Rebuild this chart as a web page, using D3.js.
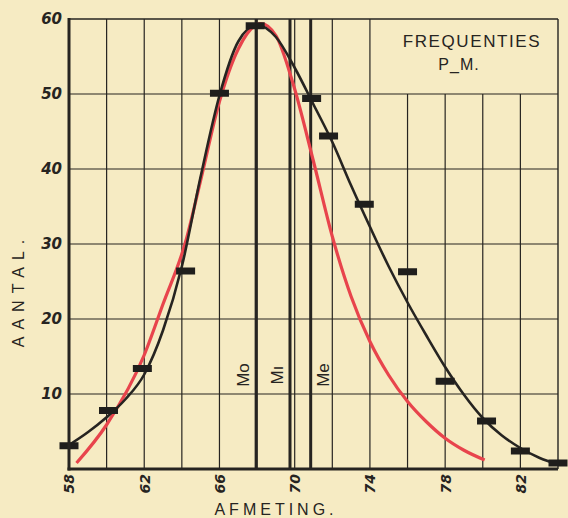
<!DOCTYPE html>
<html>
<head>
<meta charset="utf-8">
<script src="https://cdn.jsdelivr.net/npm/d3@7"></script>
<style>
  html, body { margin: 0; padding: 0; background: #f6ebc3; }
  svg { display: block; }
</style>
</head>
<body>
<div id="chart"></div>
<script>
// #region Data
const barX = [58, 60.1, 61.9, 64.2, 66, 67.9, 70.9, 71.8, 73.7, 76, 78, 80.2, 82, 84];
const barY = [3.1, 7.8, 13.4, 26.4, 50.1, 59.1, 49.4, 44.4, 35.3, 26.3, 11.7, 6.4, 2.4, 0.8];

const blackCurveX = [58, 59, 60, 61, 62, 63, 64, 65, 66, 67, 68, 69, 70, 71, 72, 73, 74, 75, 76, 77, 78, 79, 80, 81, 82, 83, 84];
const blackCurveY = [3.2, 4.9, 6.9, 9.3, 12.6, 18.5, 27, 39, 49.8, 57, 59.2, 57.6, 53.5, 48.6, 43.6, 37.8, 32.3, 27, 22.2, 17.8, 13.6, 9.9, 6.8, 4.5, 2.8, 1.5, 0.6];

const redCurveX = [58.4, 60, 62, 63, 64.2, 65, 66, 67, 68.2, 69, 69.9, 71, 72, 73, 74, 75, 76, 77, 78, 79, 80.1];
const redCurveY = [0.8, 5.9, 15.2, 22, 30.3, 38.5, 49, 56, 59.4, 57.8, 51.5, 41, 31, 23, 17, 12.5, 9, 6.3, 4.1, 2.5, 1.2];

const meanLines = [
  { label: 'Mo', value: 67.95, side: 'left' },
  { label: 'Mı', value: 69.75, side: 'left' },
  { label: 'Me', value: 70.85, side: 'right' },
];

const xTickLabels = [58, 62, 66, 70, 74, 78, 82];
const xGridValues = [60, 62, 64, 66, 68, 70, 72, 74, 76, 78, 80, 82];
const yTickLabels = [10, 20, 30, 40, 50, 60];
// #endregion

// #region SVG setup
const width = 568;
const height = 518;
const ink = '#262421';
const chart = d3.select('#chart').append('svg')
  .attr('width', width)
  .attr('height', height);

chart.append('rect')
  .attr('width', width)
  .attr('height', height)
  .attr('fill', '#f6ebc3');

const x = d3.scaleLinear().domain([58, 84]).range([69, 558]);
const y = d3.scaleLinear().domain([0, 60]).range([469, 19]);
// #endregion

// #region Grid
const grid = chart.append('g');
// legend box in the upper right has no vertical gridlines
grid.selectAll('line.v')
  .data(xGridValues)
  .enter()
  .append('line')
  .attr('x1', d => x(d))
  .attr('x2', d => x(d))
  .attr('y1', d => (d > 74 ? y(50) : y(60)))
  .attr('y2', y(0))
  .attr('stroke', ink)
  .attr('stroke-width', 1.2);

grid.selectAll('line.h')
  .data(yTickLabels)
  .enter()
  .append('line')
  .attr('x1', x(58))
  .attr('x2', x(84))
  .attr('y1', d => y(d))
  .attr('y2', d => y(d))
  .attr('stroke', ink)
  .attr('stroke-width', d => (d === 60 ? 1.6 : 1.2));

// right border
grid.append('line')
  .attr('x1', x(84)).attr('x2', x(84))
  .attr('y1', y(60)).attr('y2', y(0))
  .attr('stroke', ink).attr('stroke-width', 1.4);
// #endregion

// #region Mean / mode / median lines
const marks = chart.append('g');
marks.selectAll('line')
  .data(meanLines)
  .enter()
  .append('line')
  .attr('x1', d => x(d.value))
  .attr('x2', d => x(d.value))
  .attr('y1', y(60))
  .attr('y2', y(0))
  .attr('stroke', ink)
  .attr('stroke-width', 3);

marks.selectAll('text')
  .data(meanLines)
  .enter()
  .append('text')
  .text(d => d.label)
  .attr('transform', d => `translate(${x(d.value) + (d.side === 'left' ? -7 : 18)}, 375) rotate(-90)`)
  .attr('text-anchor', 'middle')
  .attr('font-family', 'Liberation Sans, Arial, sans-serif')
  .attr('font-size', 17)
  .attr('fill', ink);
// #endregion

// #region Curves
const line = d3.line()
  .x(d => x(d[0]))
  .y(d => y(d[1]))
  .curve(d3.curveMonotoneX);

chart.append('path')
  .datum(redCurveX.map((d, i) => [d, redCurveY[i]]))
  .attr('d', line)
  .attr('fill', 'none')
  .attr('stroke', '#e8444c')
  .attr('stroke-width', 3.2);

chart.append('path')
  .datum(blackCurveX.map((d, i) => [d, blackCurveY[i]]))
  .attr('d', line)
  .attr('fill', 'none')
  .attr('stroke', ink)
  .attr('stroke-width', 2.6);
// #endregion

// #region Frequency bars
chart.append('g')
  .selectAll('rect')
  .data(barX.map((d, i) => [d, barY[i]]))
  .enter()
  .append('rect')
  .attr('x', d => x(d[0]) - 9.5)
  .attr('y', d => y(d[1]) - 3.5)
  .attr('width', 19)
  .attr('height', 7)
  .attr('fill', '#1f1e1c');
// #endregion

// #region Axes
const xAxis = chart.append('g')
  .attr('transform', `translate(0, ${y(0)})`)
  .call(d3.axisBottom(x).tickValues(xTickLabels).tickSize(0).tickPadding(0));
xAxis.select('.domain').remove();
xAxis.selectAll('text')
  .attr('transform', 'rotate(-90)')
  .attr('x', -5)
  .attr('y', 0)
  .attr('dy', '0.35em')
  .attr('text-anchor', 'end')
  .attr('font-family', 'DejaVu Sans, sans-serif')
  .attr('font-style', 'italic')
  .attr('font-weight', 'bold')
  .attr('font-size', 14)
  .attr('fill', ink);

const yAxis = chart.append('g')
  .attr('transform', `translate(${x(58)}, 0)`)
  .call(d3.axisLeft(y).tickValues(yTickLabels).tickSize(0).tickPadding(7));
yAxis.select('.domain').remove();
yAxis.selectAll('text')
  .attr('font-family', 'DejaVu Sans, sans-serif')
  .attr('font-style', 'italic')
  .attr('font-weight', 'bold')
  .attr('font-size', 15)
  .attr('fill', ink);

// thick axis lines
chart.append('line')
  .attr('x1', x(58)).attr('x2', x(58))
  .attr('y1', y(60) - 1).attr('y2', y(0) + 1.5)
  .attr('stroke', ink).attr('stroke-width', 3);
chart.append('line')
  .attr('x1', x(58) - 1.5).attr('x2', x(84))
  .attr('y1', y(0)).attr('y2', y(0))
  .attr('stroke', ink).attr('stroke-width', 3);
// #endregion

// #region Titles
const labelFont = 'Liberation Sans, Arial, sans-serif';
chart.append('text')
  .text('AFMETING.')
  .attr('x', 276)
  .attr('y', 515)
  .attr('text-anchor', 'middle')
  .attr('font-family', labelFont)
  .attr('font-size', 16)
  .attr('letter-spacing', 4)
  .attr('fill', ink);

chart.append('text')
  .text('AANTAL.')
  .attr('transform', 'translate(24, 290) rotate(-90)')
  .attr('text-anchor', 'middle')
  .attr('font-family', labelFont)
  .attr('font-size', 16)
  .attr('letter-spacing', 7)
  .attr('fill', ink);

chart.append('text')
  .text('FREQUENTIES')
  .attr('x', 472)
  .attr('y', 47)
  .attr('text-anchor', 'middle')
  .attr('font-family', labelFont)
  .attr('font-size', 17)
  .attr('letter-spacing', 1.6)
  .attr('fill', ink);

chart.append('text')
  .text('P_M.')
  .attr('x', 459)
  .attr('y', 70)
  .attr('text-anchor', 'middle')
  .attr('font-family', labelFont)
  .attr('font-size', 16)
  .attr('letter-spacing', 1)
  .attr('fill', ink);
// #endregion
</script>
</body>
</html>
